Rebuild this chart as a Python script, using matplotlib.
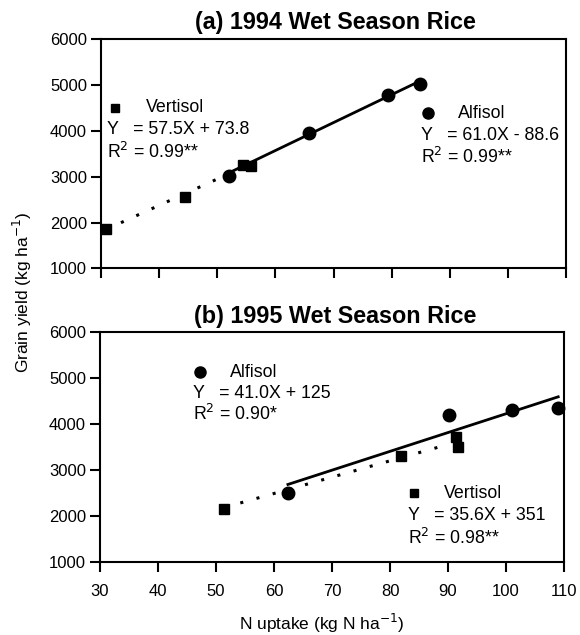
import matplotlib
matplotlib.use("Agg")
import matplotlib.pyplot as plt
from matplotlib.lines import Line2D
from matplotlib import font_manager as fm
import numpy as np

plt.rcParams['font.family'] = ['Liberation Sans', 'DejaVu Sans']

# Panel (a) 1994
a_vert_x = [30.8, 44.4, 54.5, 55.8]
a_vert_y = [1855, 2565, 3260, 3225]
a_alf_x = [52.0, 65.7, 79.3, 84.8]
a_alf_y = [3025, 3945, 4790, 5025]
a_vert_coef = (57.5, 73.8)
a_alf_coef = (61.0, -88.6)
a_vert_range = (30.8, 52.0)
a_alf_range = (52.0, 84.8)

# Panel (b) 1995
b_vert_x = [51.4, 81.9, 91.3, 91.8]
b_vert_y = [2150, 3300, 3710, 3505]
b_alf_x = [62.4, 90.1, 101.0, 108.9]
b_alf_y = [2505, 4200, 4300, 4350]
b_vert_coef = (35.6, 351)
b_alf_coef = (41.0, 125)
b_vert_range = (51.4, 89.5)
b_alf_range = (62.4, 109.0)

xticks = [30, 40, 50, 60, 70, 80, 90, 100, 110]
yticks = [1000, 2000, 3000, 4000, 5000, 6000]

# pick the regular-width Liberation Sans Bold file explicitly
bold_file = None
for f in fm.findSystemFonts():
    if f.endswith('LiberationSans-Bold.ttf'):
        bold_file = f
        break
if bold_file:
    title_fp = fm.FontProperties(fname=bold_file, size=16.8)
else:
    title_fp = fm.FontProperties(family='DejaVu Sans', weight='bold', size=15)

W, H = 580, 635
fig = plt.figure(figsize=(5.8, 6.35), dpi=100)
ax1 = fig.add_axes([101/W, 1-268.3/H, 465/W, 229/H])
ax2 = fig.add_axes([100/W, 1-561.7/H, 464/W, 229.4/H])

def style(ax, show_x):
    ax.set_xlim(30, 110)
    ax.set_ylim(1000, 6000)
    ax.set_xticks(xticks)
    ax.set_yticks(yticks)
    for s in ax.spines.values():
        s.set_linewidth(1.5)
    ax.tick_params(direction='out', length=7, width=1.5, labelsize=12)
    ax.tick_params(axis='x', pad=9)
    ax.tick_params(axis='y', pad=3)
    if not show_x:
        ax.set_xticklabels([])

def line(ax, coef, rng, ls, lw):
    xs = np.array(rng)
    ax.plot(xs, coef[0]*xs + coef[1], color='black', linestyle=ls, linewidth=lw)

def px(x, y):
    return x/W, 1-y/H

def mark(x, y, m, ms):
    fx, fy = px(x, y)
    fig.add_artist(Line2D([fx], [fy], marker=m, markersize=ms, color='black',
                          linestyle='none', transform=fig.transFigure))

def txt(x, y, s, **kw):
    fx, fy = px(x, y)
    d = dict(fontsize=12.8, va='center', ha='left')
    d.update(kw)
    fig.text(fx, fy, s, **d)

style(ax1, False)
style(ax2, True)

# (a)
line(ax1, a_vert_coef, a_vert_range, (0, (1, 4.5)), 2.2)
line(ax1, a_alf_coef, a_alf_range, '-', 2.0)
ax1.plot(a_vert_x, a_vert_y, 's', color='black', markersize=7.5, clip_on=False)
ax1.plot(a_alf_x, a_alf_y, 'o', color='black', markersize=9, clip_on=False)
fig.text(335/W, 1-22/H, '(a) 1994 Wet Season Rice', fontproperties=title_fp,
         ha='center', va='center')

mark(115, 108, 's', 6)
txt(146, 108, 'Vertisol')
txt(107, 130, 'Y   = 57.5X + 73.8')
txt(107, 152, 'R$^2$ = 0.99**')
mark(428, 113, 'o', 8)
txt(458, 113, 'Alfisol')
txt(421, 136, 'Y   = 61.0X - 88.6')
txt(421, 157, 'R$^2$ = 0.99**')

# (b)
line(ax2, b_alf_coef, b_alf_range, '-', 2.0)
line(ax2, b_vert_coef, b_vert_range, (0, (1, 4.5)), 2.2)
ax2.plot(b_vert_x, b_vert_y, 's', color='black', markersize=7.5, clip_on=False)
ax2.plot(b_alf_x, b_alf_y, 'o', color='black', markersize=9, clip_on=False)
fig.text(335/W, 1-317/H, '(b) 1995 Wet Season Rice', fontproperties=title_fp,
         ha='center', va='center')

mark(200, 372, 'o', 8)
txt(230, 372, 'Alfisol')
txt(193, 393, 'Y   = 41.0X + 125')
txt(193, 414, 'R$^2$ = 0.90*')
mark(414, 493, 's', 6)
txt(444, 493, 'Vertisol')
txt(408, 516, 'Y   = 35.6X + 351')
txt(408, 538, 'R$^2$ = 0.98**')

txt(322, 623, 'N uptake (kg N ha$^{-1}$)', fontsize=12.5, ha='center')
txt(22, 292, 'Grain yield (kg ha$^{-1}$)', fontsize=12.5, ha='center', rotation=90)

fig.savefig('out.png', dpi=100)
